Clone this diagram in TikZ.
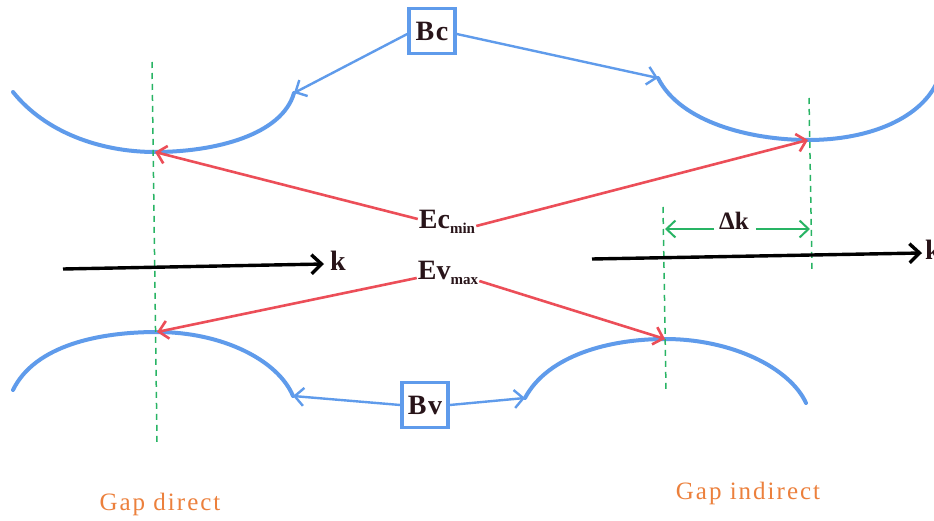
\documentclass[tikz,border=0pt]{standalone}
\usepackage{fontspec}
\setmainfont{Liberation Serif}
\usetikzlibrary{arrows.meta}
\definecolor{bandblue}{RGB}{95,155,235}
\definecolor{arrred}{RGB}{236,78,88}
\definecolor{dashgreen}{RGB}{40,180,100}
\definecolor{gaporange}{RGB}{236,128,60}
\definecolor{lbldark}{RGB}{40,20,25}
\begin{document}
\begin{tikzpicture}[x=1pt,y=-1pt,
  band/.style={bandblue, line width=4pt, line cap=round},
  bcarrow/.style={bandblue, line width=2.4pt, -{Straight Barb[length=9pt,width=18pt]}},
  redarrow/.style={arrred, line width=2.6pt, -{Straight Barb[length=9pt,width=18pt]}},
  kaxis/.style={black, line width=3.4pt, -{Straight Barb[length=10pt,width=19pt]}},
  gdash/.style={dashgreen, line width=1.5pt, dash pattern=on 6pt off 5pt},
  garrow/.style={dashgreen, line width=2pt, -{Straight Barb[length=9pt,width=17pt]}},
  boxnode/.style={draw=bandblue, line width=3.5pt, minimum width=46pt, minimum height=45pt, inner sep=0pt, text=lbldark, font=\bfseries\fontsize{28}{28}\selectfont\addfontfeature{LetterSpace=6}},
  lbl/.style={inner sep=1pt, text=lbldark, font=\bfseries\fontsize{28}{28}\selectfont},
  gaplbl/.style={text=gaporange, font=\fontsize{25}{25}\selectfont\addfontfeature{LetterSpace=8}}
]
\clip (0,0) rectangle (934,521);
\fill[white] (0,0) rectangle (934,521);

% band curves
\coordinate (tlA) at (13,92);  \coordinate (tlM) at (155,152); \coordinate (tlB) at (294,93);
\coordinate (trA) at (658,78); \coordinate (trM) at (808,140); \coordinate (trB) at (938,80);
\coordinate (blA) at (13,390); \coordinate (blM) at (157,332); \coordinate (blB) at (293,396);
\coordinate (brA) at (525,398); \coordinate (brM) at (665,339); \coordinate (brB) at (806,403);

\draw[band] (tlA) .. controls (45,132) and (100,152) .. (tlM) .. controls (215,152) and (282,135) .. (tlB);
\draw[band] (trA) .. controls (680,122) and (750,140) .. (trM) .. controls (870,140) and (922,118) .. (trB);
\draw[band] (blA) .. controls (35,345) and (100,332) .. (blM) .. controls (222,332) and (278,360) .. (blB);
\draw[band] (brA) .. controls (548,355) and (610,339) .. (brM) .. controls (732,339) and (790,368) .. (brB);

% green dashed verticals
\coordinate (g1a) at (152,62);  \coordinate (g1b) at (157,442);
\coordinate (g2a) at (809,98);  \coordinate (g2b) at (812,270);
\coordinate (g3a) at (663,207); \coordinate (g3b) at (666,390);
\draw[gdash] (g1a) -- (g1b);
\draw[gdash] (g2a) -- (g2b);
\draw[gdash] (g3a) -- (g3b);

% boxes
\node[boxnode] (Bc) at (432,31) {Bc};
\node[boxnode] (Bv) at (425,405) {Bv};
\draw[bcarrow] (Bc.west) ++(0,3) coordinate (bcw) (bcw) -- (tlB);
\draw[bcarrow] (Bc.east) ++(0,3) coordinate (bce) (bce) -- (trA);
\draw[bcarrow] (Bv.west) -- (blB);
\draw[bcarrow] (Bv.east) -- (brA);

% energy labels
\node[lbl] (Ec) at (447,222) {Ec\raisebox{-0.4ex}{\fontsize{15}{15}\selectfont min}};
\node[lbl] (Ev) at (448,273) {Ev\raisebox{-0.4ex}{\fontsize{15}{15}\selectfont max}};
\draw[redarrow] (Ec.west) ++(0,-3) coordinate (ecw) (ecw) -- (tlM);
\draw[redarrow] (Ec.east) ++(0,4) coordinate (ece) (ece) -- (trM);
\draw[redarrow] (Ev.west) ++(0,5) coordinate (evw) (evw) -- (blM);
\draw[redarrow] (Ev.east) ++(0,8) coordinate (eve) (eve) -- (brM);

% k axes
\coordinate (k1a) at (63,269); \coordinate (k1b) at (324,264);
\coordinate (k2a) at (592,259); \coordinate (k2b) at (922,253);
\draw[kaxis] (k1a) -- (k1b);
\draw[kaxis] (k2a) -- (k2b);
\node[lbl, anchor=west] (k1) at (329,261) {k};
\node[lbl, anchor=west] (k2) at (924,250) {k};

% delta k
\node[lbl, font=\bfseries\fontsize{25}{25}\selectfont] (dk) at (734,221) {Δk};
\coordinate (dkL) at (665,229); \coordinate (dkR) at (810,229);
\draw[garrow] (dk.west |- dkL) ++(-4,0) coordinate (dkl0) (dkl0) -- (dkL);
\draw[garrow] (dk.east |- dkR) ++(6,0) coordinate (dkr0) (dkr0) -- (dkR);

% gap labels
\node[gaplbl] (gd) at (160,504) {Gap direct};
\node[gaplbl] (gi) at (748,493) {Gap indirect};
\end{tikzpicture}
\end{document}
